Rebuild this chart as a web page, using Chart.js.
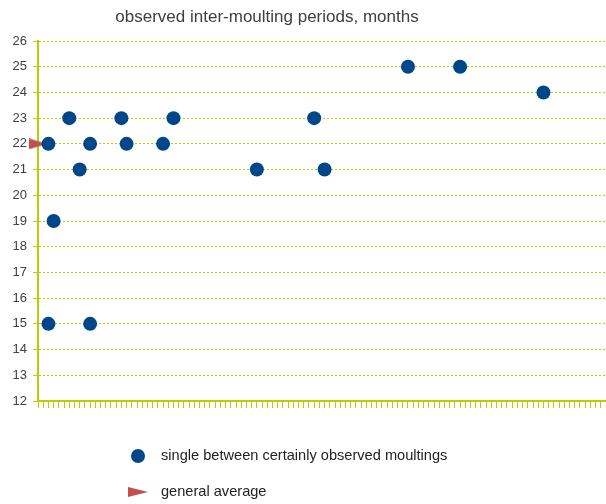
<!DOCTYPE html>
<html>
<head>
<meta charset="utf-8">
<script src="https://cdn.jsdelivr.net/npm/chart.js@4/dist/chart.umd.min.js"></script>
<style>
  html, body { margin: 0; padding: 0; background: #fff; }
  #wrap { position: relative; width: 606px; height: 504px; font-family: "Liberation Sans", Arial, sans-serif; }
  #ttl { position: absolute; left: 0; top: 7px; width: 534px; text-align: center; font-size: 17px; color: #404040; }
  .leg { position: absolute; left: 0; font-size: 14.6px; color: #222; white-space: nowrap; }
  .leg span.txt { position: absolute; left: 161px; top: -9px; }
  .dot { position: absolute; left: 131px; top: -7px; width: 14px; height: 14px; border-radius: 50%; background: #00468b; }
  .tri { position: absolute; left: 128px; top: -5px; width: 0; height: 0;
         border-left: 20px solid #c0504d; border-top: 5px solid transparent; border-bottom: 5px solid transparent; }
</style>
</head>
<body>
<div id="wrap">
  <canvas id="ch" width="606" height="504"></canvas>
  <div id="ttl">observed inter-moulting periods, months</div>
  <div class="leg" style="top:456px"><div class="dot"></div><span class="txt">single between certainly observed moultings</span></div>
  <div class="leg" style="top:492px"><div class="tri"></div><span class="txt">general average</span></div>
</div>
<script>
/* ---------- datos ---------- */
const obsX = [2, 2, 3, 6, 8, 10, 10, 16, 17, 24, 26, 42, 53, 55, 71, 81, 97];
const obsY = [22, 15, 19, 23, 21, 22, 15, 23, 22, 22, 23, 21, 23, 21, 25, 25, 24];
const avgX = [0];
const avgY = [22];
const yMin = 12, yMax = 26;
const xMin = 0, xMax = 109;

const green = "#b7cf00";
const ink = "#404040";

// triángulo achatado para el promedio
function triangle() {
  const c = document.createElement("canvas");
  c.width = 18; c.height = 11;
  const g = c.getContext("2d");
  g.fillStyle = "#c0504d";
  g.beginPath(); g.moveTo(0, 0); g.lineTo(18, 5.5); g.lineTo(0, 11); g.closePath(); g.fill();
  return c;
}

const pts = (xs, ys) => xs.map((x, i) => ({ x, y: ys[i] }));

new Chart(document.getElementById("ch"), {
  type: "scatter",
  data: {
    datasets: [
      {
        label: "single between certainly observed moultings",
        data: pts(obsX, obsY),
        pointRadius: 7, pointHoverRadius: 7,
        backgroundColor: "#00468b", borderColor: "#00468b", borderWidth: 0,
      },
      {
        label: "general average",
        data: pts(avgX, avgY),
        pointStyle: triangle(),
        clip: false,
      },
    ],
  },
  options: {
    responsive: false, animation: false,
    layout: { autoPadding: false, padding: { top: 41, right: 0, bottom: 96, left: 0 } },
    plugins: { legend: { display: false }, tooltip: { enabled: false }, title: { display: false } },
    scales: {
      x: {
        type: "linear", min: xMin, max: xMax,
        border: { color: green, width: 2 },
        grid: { drawOnChartArea: false, drawTicks: true, tickLength: 7, color: green, lineWidth: 1 },
        ticks: { display: false, stepSize: 1, maxTicksLimit: 200, autoSkip: false },
      },
      y: {
        min: yMin, max: yMax,
        afterFit: (s) => { s.width = 38; },
        border: { color: green, width: 2, dash: [2, 2] },
        grid: { color: green, lineWidth: 1, tickLength: 5, tickBorderDash: [] },
        ticks: { stepSize: 1, color: ink, padding: 6, font: { family: "'Liberation Sans', Arial, sans-serif", size: 13 } },
      },
    },
  },
});
</script>
</body>
</html>
